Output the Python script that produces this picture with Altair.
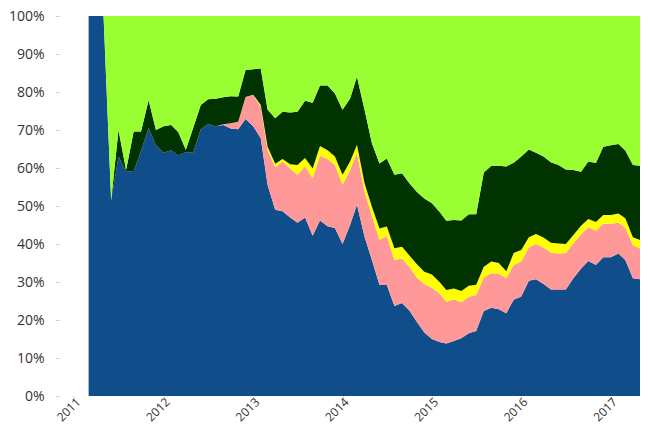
import altair as alt
import pandas as pd

# month-end observations, Feb 2011 .. May 2017
dates = pd.period_range("2011-02", "2017-05", freq="M").to_timestamp(how="end").normalize()

s_blue = [100, 100, 100, 51.5, 63, 59, 59.2, 64.5, 70.5, 66, 64, 64.7, 63.3, 64.2, 64, 70.2,
          71.6, 71, 71.3, 70.4, 70.2, 72.9, 71.0, 67.8, 55.5, 49.0, 48.6, 47.0, 45.6, 47.0,
          42.2, 46.2, 44.7, 44.2, 40.0, 45.0, 50.3, 41.9, 35.8, 29.2, 29.2, 23.7, 24.5, 22.5,
          19.5, 16.7, 15.0, 14.2, 13.8, 14.5, 15.2, 16.5, 17.1, 22.4, 23.2, 22.8, 21.8, 25.3,
          26.2, 30.3, 30.7, 29.5, 28.0, 28.0, 28.0, 31.0, 33.5, 35.5, 34.5, 36.5, 36.5, 37.5,
          35.8, 31.0, 30.7, 30.0]
s_pink = [0, 0, 0, 0, 0, 0, 0, 0, 0, 0, 0, 0, 0, 0, 0, 0,
          0, 0, 0.2, 1.4, 2.0, 5.8, 8.2, 8.3, 9.2, 11.2, 13.1, 12.9, 12.6, 13.4,
          15.1, 17.0, 17.7, 16.6, 15.6, 14.5, 13.6, 11.9, 11.6, 11.9, 12.9, 12.1, 11.7, 11.5,
          11.6, 12.8, 13.5, 12.8, 11.0, 10.9, 9.5, 9.6, 9.5, 8.8, 9.1, 9.4, 9.2, 9.2,
          9.2, 8.8, 9.3, 9.6, 9.7, 9.5, 9.6, 9.2, 9.0, 8.9, 9.0, 8.8, 8.8, 8.1,
          8.5, 8.7, 8.1, 8.2]
s_yellow = [0, 0, 0, 0, 0, 0, 0, 0, 0, 0, 0, 0, 0, 0, 0, 0,
            0, 0, 0, 0, 0, 0, 0.1, 0.5, 0.9, 0.9, 0.7, 1.1, 2.6, 2.2,
            2.6, 2.6, 2.3, 2.2, 2.6, 2.2, 2.2, 2.2, 2.4, 3.0, 2.5, 3.1, 3.1, 3.0,
            3.6, 3.2, 3.5, 3.0, 3.1, 2.9, 2.9, 2.9, 2.7, 2.8, 3.1, 2.8, 1.8, 3.1,
            3.0, 2.7, 2.6, 2.6, 2.6, 2.6, 2.4, 2.2, 2.3, 2.2, 2.3, 2.3, 2.3, 2.4,
            2.5, 2.1, 2.2, 2.3]
s_darkgreen = [0, 0, 0, 0, 7, 0.5, 10.4, 5.1, 7.3, 4, 7, 6.6, 6.2, 0.6, 6.5, 6.4,
               6.5, 7.2, 7.1, 7.1, 6.6, 7.1, 6.7, 9.6, 9.7, 12.0, 12.4, 13.6, 14.0, 15.1,
               17.3, 15.9, 17.0, 16.6, 17.1, 16.6, 17.9, 19.3, 16.7, 17.1, 17.9, 19.3, 19.3, 19.0,
               19.0, 19.3, 18.7, 18.5, 18.2, 18.0, 18.6, 18.8, 18.5, 24.8, 25.2, 25.6, 27.6, 23.8,
               24.6, 23.1, 21.4, 21.3, 21.2, 20.7, 19.6, 17.1, 14.2, 15.1, 15.5, 18.0, 18.4, 18.3,
               17.8, 19.0, 19.6, 20.0]
s_lightgreen = [0, 0, 0, 48.5, 30, 40.5, 30.4, 30.4, 22.2, 30, 29, 28.7, 30.5, 35.2, 29.5, 23.4,
                21.9, 21.8, 21.4, 21.1, 21.2, 14.2, 14.0, 13.8, 24.7, 26.9, 25.2, 25.4, 25.2, 22.3,
                22.8, 18.3, 18.3, 20.4, 24.7, 21.7, 16.0, 24.7, 33.5, 38.8, 37.5, 41.8, 41.4, 44.0,
                46.3, 48.0, 49.3, 51.5, 53.9, 53.7, 53.8, 52.2, 52.2, 41.2, 39.4, 39.4, 39.6, 38.6,
                37.0, 35.1, 36.0, 37.0, 38.5, 39.2, 40.4, 40.5, 41.0, 38.3, 38.7, 34.4, 34.0, 33.7,
                35.4, 39.2, 39.4, 39.5]

series_names = ["Series 1", "Series 2", "Series 3", "Series 4", "Series 5"]
series_values = [s_blue, s_pink, s_yellow, s_darkgreen, s_lightgreen]
colors = ["#104E8B", "#FF9999", "#FFFF00", "#003300", "#99FF33"]
year_ticks = list(range(2011, 2018))
y_ticks = [i / 10 for i in range(11)]

rows = []
for i, d in enumerate(dates):
    for j, (name, vals) in enumerate(zip(series_names, series_values)):
        rows.append({"date": d, "series": name, "order": j, "value": vals[i]})
df = pd.DataFrame(rows)

font = "Open Sans"
label_color = "#333333"

chart = alt.Chart(df).mark_area(interpolate="linear", clip=True).encode(
    x=alt.X(
        "date:T",
        title=None,
        scale=alt.Scale(
            domain=[alt.DateTime(year=2010, month=10, date=30),
                    alt.DateTime(year=2017, month=4, date=29)],
            nice=False,
        ),
        axis=alt.Axis(
            values=[alt.DateTime(year=y, month=1, date=1) for y in year_ticks],
            format="%Y",
            labelAngle=-45,
            labelAlign="right",
            labelBaseline="top",
            labelFont=font,
            labelFontSize=12,
            labelColor=label_color,
            tickColor="#cccccc",
            tickSize=3,
            labelPadding=-3,
            domain=False,
            grid=False,
        ),
    ),
    y=alt.Y(
        "value:Q",
        stack="normalize",
        title=None,
        scale=alt.Scale(domain=[0, 1], nice=False),
        axis=alt.Axis(
            values=y_ticks,
            format=".0%",
            labelFont=font,
            labelFontSize=14,
            labelColor=label_color,
            tickColor="#cccccc",
            tickSize=4,
            labelPadding=11,
            domain=False,
            grid=False,
        ),
    ),
    color=alt.Color("series:N", scale=alt.Scale(domain=series_names, range=colors), legend=None),
    order=alt.Order("order:Q", sort="ascending"),
).properties(
    width=581,
    height=380,
    autosize=alt.AutoSizeParams(type="none"),
    padding={"left": 51, "top": 8, "right": 0, "bottom": 28},
    background="white",
).configure_view(stroke=None)

chart.save("out.html", embed_options={"renderer": "svg", "actions": False})
